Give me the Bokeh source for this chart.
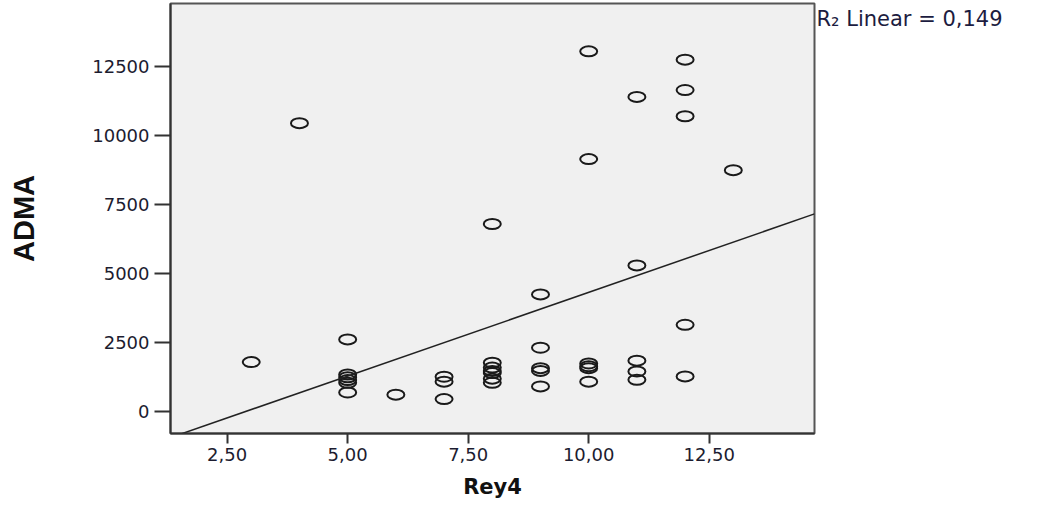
from bokeh.plotting import figure
from bokeh.models import ColumnDataSource, FixedTicker, Range1d, LinearAxis
from bokeh.embed import file_html
from bokeh.resources import INLINE

# ---- data ----
rey4 = [3,
        4,
        5, 5, 5, 5, 5, 5,
        6,
        7, 7, 7,
        8, 8, 8, 8, 8, 8, 8,
        9, 9, 9, 9, 9,
        10, 10, 10, 10, 10, 10,
        11, 11, 11, 11, 11,
        12, 12, 12, 12, 12,
        13]
adma = [1800,
        10450,
        2620, 1350, 1250, 1150, 1050, 700,
        620,
        1270, 1090, 460,
        6800, 1780, 1600, 1480, 1400, 1200, 1050,
        4250, 2320, 1580, 1480, 920,
        13050, 9150, 1750, 1650, 1580, 1090,
        11400, 5300, 1850, 1460, 1160,
        12750, 11650, 10700, 3150, 1280,
        8750]

fit_intercept = -1738.0
fit_slope = 606.3
r2_text = "R\u2082 Linear = 0,149"
r2_y = 14230

x_ticks = [2.5, 5.0, 7.5, 10.0, 12.5]
x_tick_labels = ["2,50", "5,00", "7,50", "10,00", "12,50"]
y_ticks = [0, 2500, 5000, 7500, 10000, 12500]

x_lo, x_hi = 1.325, 14.684
y_lo, y_hi = -786, 14783

# ---- figure ----
p = figure(width=1061, height=509, output_backend="svg", toolbar_location=None,
           x_range=Range1d(x_lo, x_hi), y_range=Range1d(y_lo, y_hi),
           min_border_left=170, min_border_right=247,
           min_border_top=3, min_border_bottom=76)
p.background_fill_color = "#f0f0f0"
p.border_fill_color = "white"
p.outline_line_color = "#555555"
p.outline_line_width = 2
p.grid.visible = False

src = ColumnDataSource(dict(x=rey4, y=adma))
p.ellipse(x="x", y="y", width=17, height=10, width_units="screen", height_units="screen",
          fill_color=None, line_color="#1a1a1a", line_width=2, source=src)

line_x = [x_lo, x_hi]
line_y = [fit_intercept + fit_slope * v for v in line_x]
p.line(line_x, line_y, line_color="#222222", line_width=1.5)

# axes
for ax in (p.xaxis[0], p.yaxis[0]):
    ax.axis_line_color = "#333333"
    ax.axis_line_width = 2
    ax.major_tick_line_color = "#333333"
    ax.major_tick_line_width = 2
    ax.major_tick_in = 0
    ax.minor_tick_line_color = None
    ax.major_label_text_font = "DejaVu Sans"
    ax.major_label_text_font_size = "18px"
    ax.major_label_text_color = "#1c1c30"

p.xaxis.ticker = FixedTicker(ticks=x_ticks)
p.xaxis.major_label_overrides = {t: l for t, l in zip(x_ticks, x_tick_labels)}
p.xaxis.major_tick_out = 10
p.xaxis.major_label_standoff = 4
p.xaxis.axis_label = "Rey4"
p.xaxis.axis_label_text_font = "DejaVu Sans"
p.xaxis.axis_label_text_font_style = "bold"
p.xaxis.axis_label_text_font_size = "21px"
p.xaxis.axis_label_text_color = "#111111"
p.xaxis.axis_label_standoff = 11

p.yaxis.ticker = FixedTicker(ticks=y_ticks)
p.yaxis.major_tick_out = 16
p.yaxis.major_label_standoff = 5
p.yaxis.axis_label = "ADMA"
p.yaxis.axis_label_text_font = "Liberation Sans"
p.yaxis.axis_label_text_font_style = "bold"
p.yaxis.axis_label_text_font_size = "29px"
p.yaxis.axis_label_text_color = "#111111"
p.yaxis.axis_label_standoff = 49

# R² annotation as a tick label on a bare right-hand axis
r_axis = LinearAxis(ticker=FixedTicker(ticks=[r2_y]),
                    major_label_overrides={r2_y: r2_text},
                    axis_line_color=None, major_tick_line_color=None,
                    minor_tick_line_color=None, major_tick_out=0, major_tick_in=0,
                    major_label_standoff=2,
                    major_label_text_font="DejaVu Sans",
                    major_label_text_font_size="21px",
                    major_label_text_color="#1c1c40")
p.add_layout(r_axis, "right")

open("out.html", "w").write(file_html(p, INLINE))
